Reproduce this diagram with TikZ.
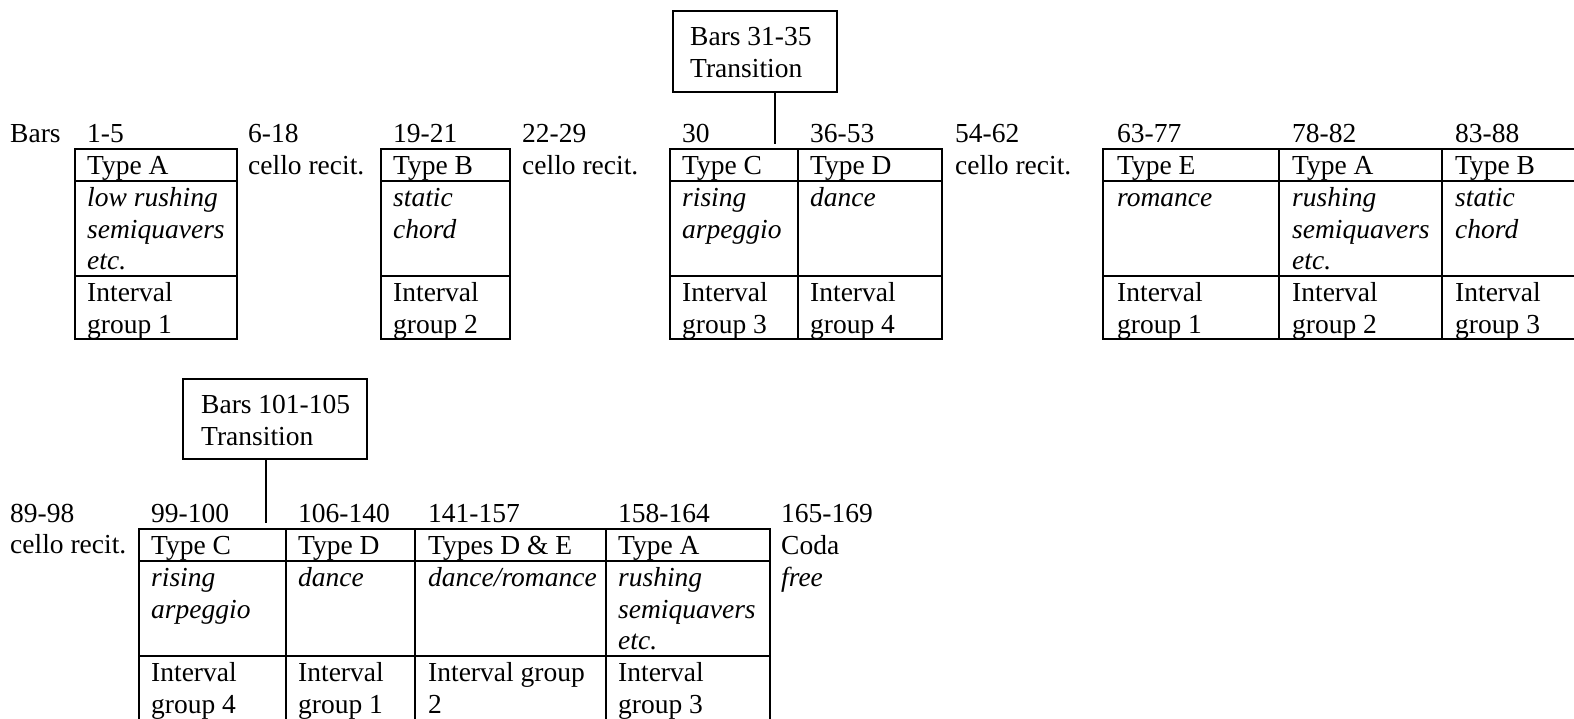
\documentclass[tikz,border=0pt]{standalone}
\usepackage{fontspec}
\setmainfont{Liberation Serif}
\begin{document}
\begin{tikzpicture}[x=1pt,y=-1pt,
  txt/.style={anchor=base west, inner sep=0pt, font=\fontsize{27.5}{31.7}\selectfont},
  itx/.style={anchor=base west, inner sep=0pt, font=\fontsize{27.5}{31.7}\selectfont\itshape},
  grid/.style={line width=1.6pt},
  transbox/.style={draw, line width=1.1pt, inner sep=0pt},
  conn/.style={line width=1.3pt}]
\useasboundingbox (0,0) rectangle (1574,718);

% ---------- Row 1 tables ----------
\draw[grid] (75,149) rectangle (237,339);
\draw[grid] (75,181) -- (237,181) (75,276) -- (237,276);
\draw[grid] (381,149) rectangle (510,339);
\draw[grid] (381,181) -- (510,181) (381,276) -- (510,276);
\draw[grid] (670,149) rectangle (942,339);
\draw[grid] (798,149) -- (798,339) (670,181) -- (942,181) (670,276) -- (942,276);
\draw[grid] (1103,149) rectangle (1577,339);
\draw[grid] (1279,149) -- (1279,339) (1442,149) -- (1442,339)
            (1103,181) -- (1577,181) (1103,276) -- (1577,276);

% transition 1
\node[transbox, minimum width=164pt, minimum height=81pt] (t1) at (755,51.5) {};
\node[txt] (t1a) at (690,45) {Bars 31-35};
\node[txt] (t1b) at (690,77) {Transition};
\coordinate (c1) at (775,144);
\draw[conn] (t1.south -| c1) -- (c1);

% labels row 1
\node[txt] (bars) at (10,142) {Bars};
\node[txt] (l1) at (87,142) {1-5};
\node[txt] (l2) at (248,142) {6-18};
\node[txt] (l3) at (393,142) {19-21};
\node[txt] (l4) at (522,142) {22-29};
\node[txt] (l5) at (682,142) {30};
\node[txt] (l6) at (810,142) {36-53};
\node[txt] (l7) at (955,142) {54-62};
\node[txt] (l8) at (1117,142) {63-77};
\node[txt] (l9) at (1292,142) {78-82};
\node[txt] (l10) at (1455,142) {83-88};

% box A
\node[txt] (a1) at (87,174.5) {Type A};
\node[itx] (a2) at (87,206) {low rushing};
\node[itx] (a3) at (87,238) {semiquavers};
\node[itx] (a4) at (87,269.5) {etc.};
\node[txt] (a5) at (87,301) {Interval};
\node[txt] (a6) at (87,333) {group 1};
\node[txt] (r1) at (248,174.5) {cello recit.};
% box B
\node[txt] (b1) at (393,174.5) {Type B};
\node[itx] (b2) at (393,206) {static};
\node[itx] (b3) at (393,238) {chord};
\node[txt] (b5) at (393,301) {Interval};
\node[txt] (b6) at (393,333) {group 2};
\node[txt] (r2) at (522,174.5) {cello recit.};
% box C
\node[txt] (cc1) at (682,174.5) {Type C};
\node[itx] (cc2) at (682,206) {rising};
\node[itx] (cc3) at (682,238) {arpeggio};
\node[txt] (cc5) at (682,301) {Interval};
\node[txt] (cc6) at (682,333) {group 3};
% box D
\node[txt] (d1) at (810,174.5) {Type D};
\node[itx] (d2) at (810,206) {dance};
\node[txt] (d5) at (810,301) {Interval};
\node[txt] (d6) at (810,333) {group 4};
\node[txt] (r3) at (955,174.5) {cello recit.};
% box E
\node[txt] (e1) at (1117,174.5) {Type E};
\node[itx] (e2) at (1117,206) {romance};
\node[txt] (e5) at (1117,301) {Interval};
\node[txt] (e6) at (1117,333) {group 1};
% box A'
\node[txt] (f1) at (1292,174.5) {Type A};
\node[itx] (f2) at (1292,206) {rushing};
\node[itx] (f3) at (1292,238) {semiquavers};
\node[itx] (f4) at (1292,269.5) {etc.};
\node[txt] (f5) at (1292,301) {Interval};
\node[txt] (f6) at (1292,333) {group 2};
% box B'
\node[txt] (g1) at (1455,174.5) {Type B};
\node[itx] (g2) at (1455,206) {static};
\node[itx] (g3) at (1455,238) {chord};
\node[txt] (g5) at (1455,301) {Interval};
\node[txt] (g6) at (1455,333) {group 3};

% ---------- Row 2 ----------
\draw[grid] (139,529) rectangle (770,721);
\draw[grid] (286,529) -- (286,721) (415,529) -- (415,721) (606,529) -- (606,721)
            (139,561) -- (770,561) (139,656) -- (770,656);

\node[transbox, minimum width=184pt, minimum height=80pt] (t2) at (275,419) {};
\node[txt] (t2a) at (201,413) {Bars 101-105};
\node[txt] (t2b) at (201,445) {Transition};
\coordinate (c2) at (266,523);
\draw[conn] (t2.south -| c2) -- (c2);

\node[txt] (m1) at (10,522) {89-98};
\node[txt] (r4) at (10,553) {cello recit.};
\node[txt] (m2) at (151,522) {99-100};
\node[txt] (m3) at (298,522) {106-140};
\node[txt] (m4) at (428,522) {141-157};
\node[txt] (m5) at (618,522) {158-164};
\node[txt] (m6) at (781,522) {165-169};

\node[txt] (h1) at (151,554.5) {Type C};
\node[itx] (h2) at (151,586) {rising};
\node[itx] (h3) at (151,618) {arpeggio};
\node[txt] (h5) at (151,681) {Interval};
\node[txt] (h6) at (151,713) {group 4};

\node[txt] (i1) at (298,554.5) {Type D};
\node[itx] (i2) at (298,586) {dance};
\node[txt] (i5) at (298,681) {Interval};
\node[txt] (i6) at (298,713) {group 1};

\node[txt] (j1) at (428,554.5) {Types D \& E};
\node[itx] (j2) at (428,586) {dance/romance};
\node[txt] (j5) at (428,681) {Interval group};
\node[txt] (j6) at (428,713) {2};

\node[txt] (k1) at (618,554.5) {Type A};
\node[itx] (k2) at (618,586) {rushing};
\node[itx] (k3) at (618,618) {semiquavers};
\node[itx] (k4) at (618,649.5) {etc.};
\node[txt] (k5) at (618,681) {Interval};
\node[txt] (k6) at (618,713) {group 3};

\node[txt] (coda) at (781,554.5) {Coda};
\node[itx] (free) at (781,586) {free};
\end{tikzpicture}
\end{document}
